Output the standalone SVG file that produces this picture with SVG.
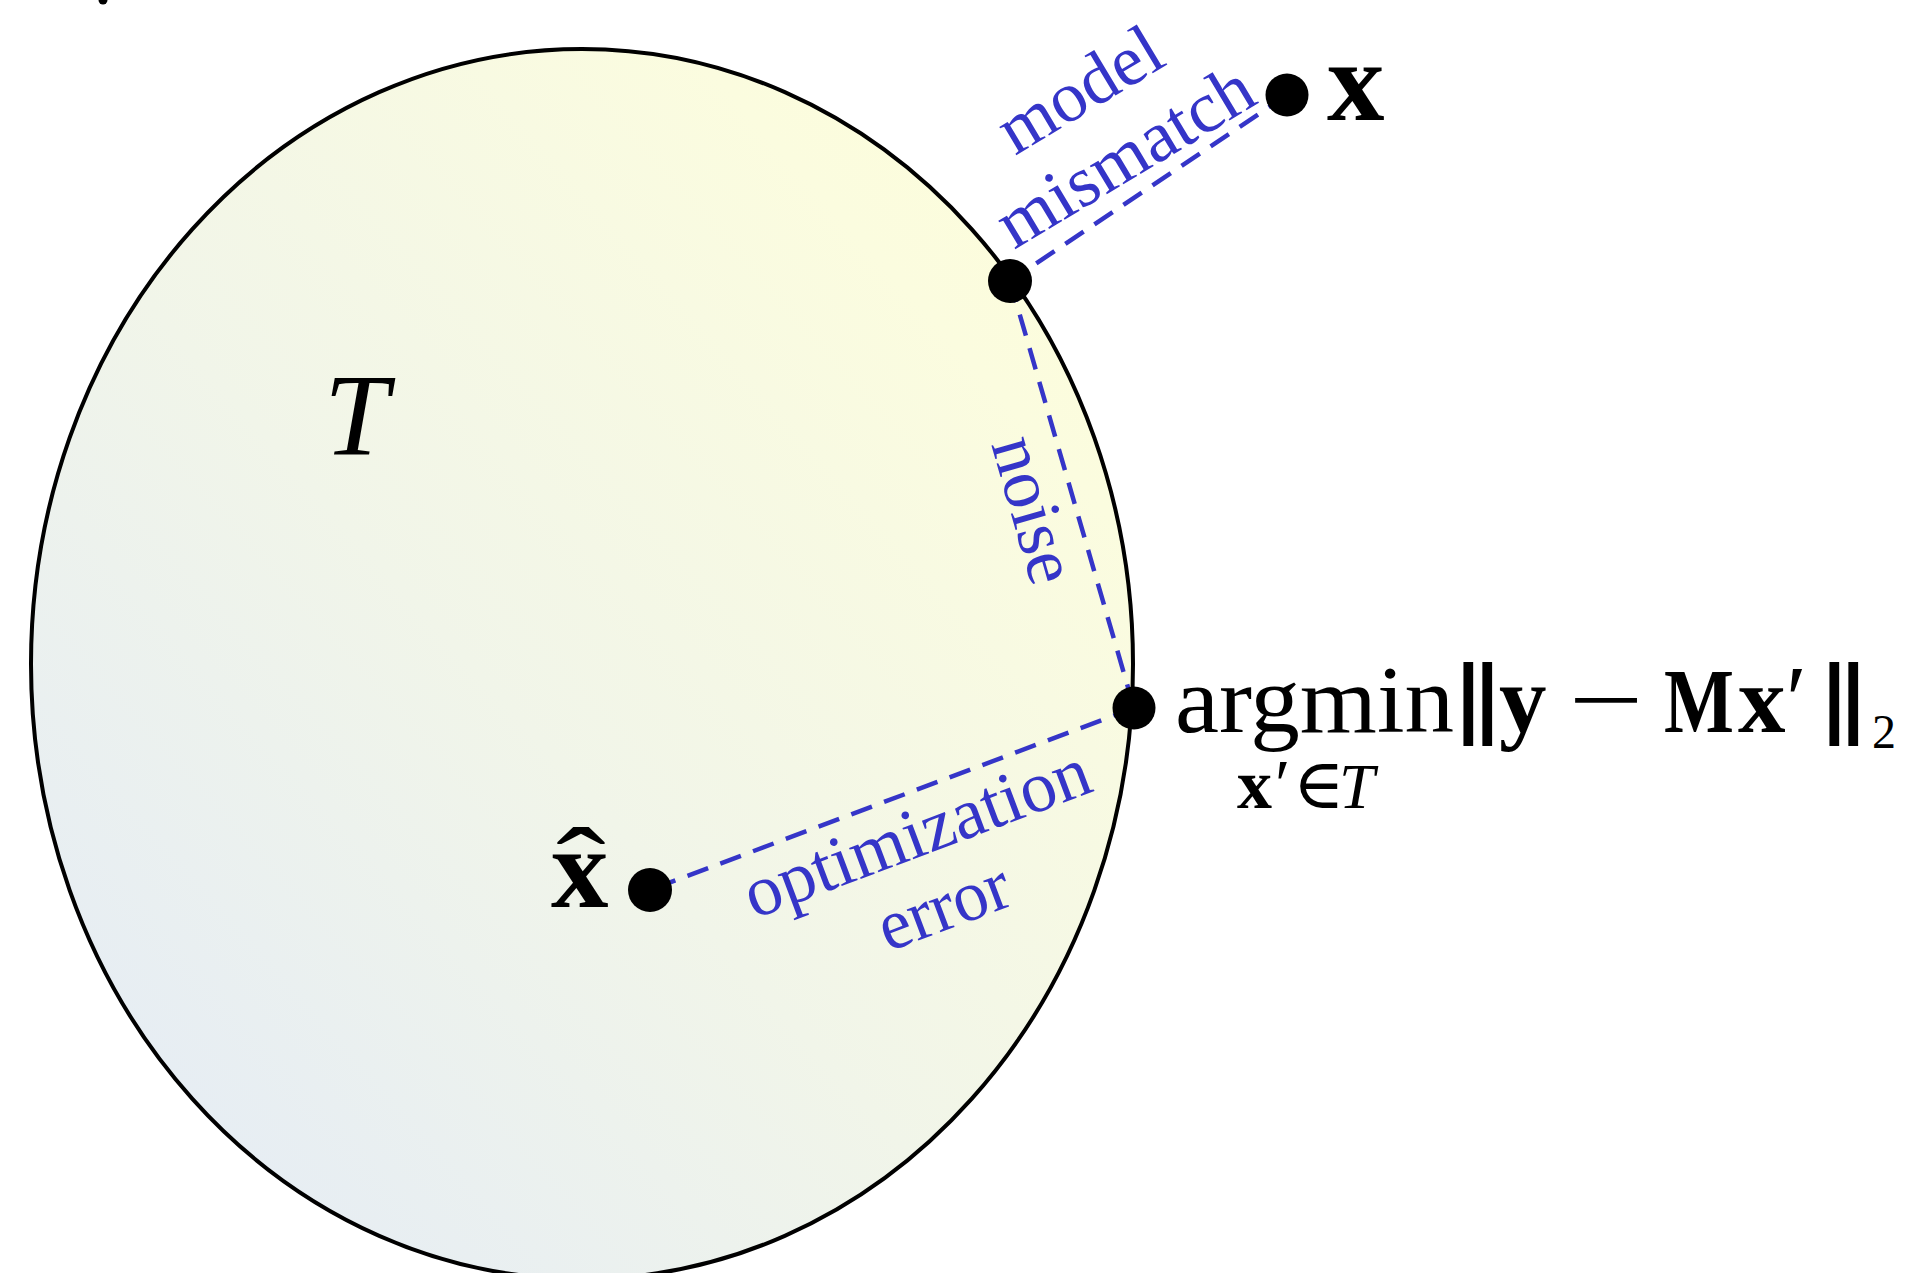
<svg xmlns="http://www.w3.org/2000/svg" width="1910" height="1273" viewBox="0 0 1910 1273">
<style>
.math{font-family:"Liberation Serif","DejaVu Serif",serif;fill:#000}
.norm{font-family:"DejaVu Sans",sans-serif;fill:#000}
.b{font-weight:bold}
.it{font-style:italic}
.lbl{font-family:"Liberation Serif","DejaVu Serif",serif;fill:#3535c8;font-size:72px}
.dash{fill:none;stroke:#3535c8;stroke-width:4.5;stroke-dasharray:22 13}
.dot{fill:#000}
</style>
<defs>
<linearGradient id="g" x1="0" y1="1" x2="1" y2="0">
<stop offset="0" stop-color="#e2eaf8"/>
<stop offset="0.45" stop-color="#f1f5e9"/>
<stop offset="0.8" stop-color="#fbfcdf"/>
<stop offset="1" stop-color="#fdfdd8"/>
</linearGradient>
</defs>
<rect width="1910" height="1273" fill="#fff"/>
<circle cx="103" cy="0" r="4.5" fill="#000"/>
<g id="set-T">
<ellipse cx="582" cy="664" rx="551" ry="615" fill="url(#g)" stroke="#000" stroke-width="4"/>
<text class="math it" x="324" y="455" font-size="116">T</text>
</g>
<g id="connectors">
<line class="dash" x1="1287" y1="95" x2="1010" y2="281"/>
<line class="dash" x1="1010" y1="281" x2="1134" y2="708"/>
<line class="dash" x1="1134" y1="708" x2="650" y2="890"/>
<text class="lbl" transform="translate(1015,156) rotate(-31)" textLength="179" lengthAdjust="spacingAndGlyphs">model</text>
<text class="lbl" transform="translate(1014,250) rotate(-31)" textLength="287" lengthAdjust="spacingAndGlyphs">mismatch</text>
<text class="lbl" transform="translate(991,444) rotate(74)" textLength="150" lengthAdjust="spacingAndGlyphs">noise</text>
<text class="lbl" transform="translate(754,919) rotate(-20.6)" textLength="365" lengthAdjust="spacingAndGlyphs">optimization</text>
<text class="lbl" transform="translate(888,952) rotate(-20.6)" textLength="136" lengthAdjust="spacingAndGlyphs">error</text>
</g>
<g id="node-x">
<circle class="dot" cx="1287" cy="95" r="21.5"/>
<text class="math b" x="1327" y="120" font-size="115">x</text>
</g>
<g id="node-boundary">
<circle class="dot" cx="1010" cy="281" r="22"/>
</g>
<g id="node-argmin">
<circle class="dot" cx="1134" cy="708" r="21.5"/>
<text class="math" x="1175" y="732" font-size="96" textLength="279" lengthAdjust="spacingAndGlyphs">argmin</text>
<text class="norm" text-anchor="middle" transform="translate(1478,726) scale(1.4,1)" font-size="84">‖</text>
<text class="math b" x="1499" y="732" font-size="95">y</text>
<text class="math" text-anchor="middle" transform="translate(1606,732) scale(1.4,1)" font-size="95">−</text>
<text class="math b" x="1664" y="732" font-size="92" textLength="70" lengthAdjust="spacingAndGlyphs">M</text>
<text class="math b" x="1738" y="732" font-size="95">x</text>
<text class="math" x="1786" y="732" font-size="95">′</text>
<text class="norm" text-anchor="middle" transform="translate(1844,726) scale(1.4,1)" font-size="84">‖</text>
<text class="math" x="1872" y="748" font-size="48">2</text>
<text class="math b" x="1237" y="808" font-size="70">x</text>
<text class="math" x="1275" y="808" font-size="70">′</text>
<text class="math" x="1293" y="808" font-size="70">∈</text>
<text class="math it" x="1339" y="808" font-size="64">T</text>
</g>
<g id="node-xhat">
<circle class="dot" cx="650" cy="890" r="22"/>
<text class="math b" x="551" y="907" font-size="115">x</text>
<text class="math" text-anchor="middle" transform="translate(581,907) scale(1.3,1)" font-size="115">ˆ</text>
</g>
</svg>
